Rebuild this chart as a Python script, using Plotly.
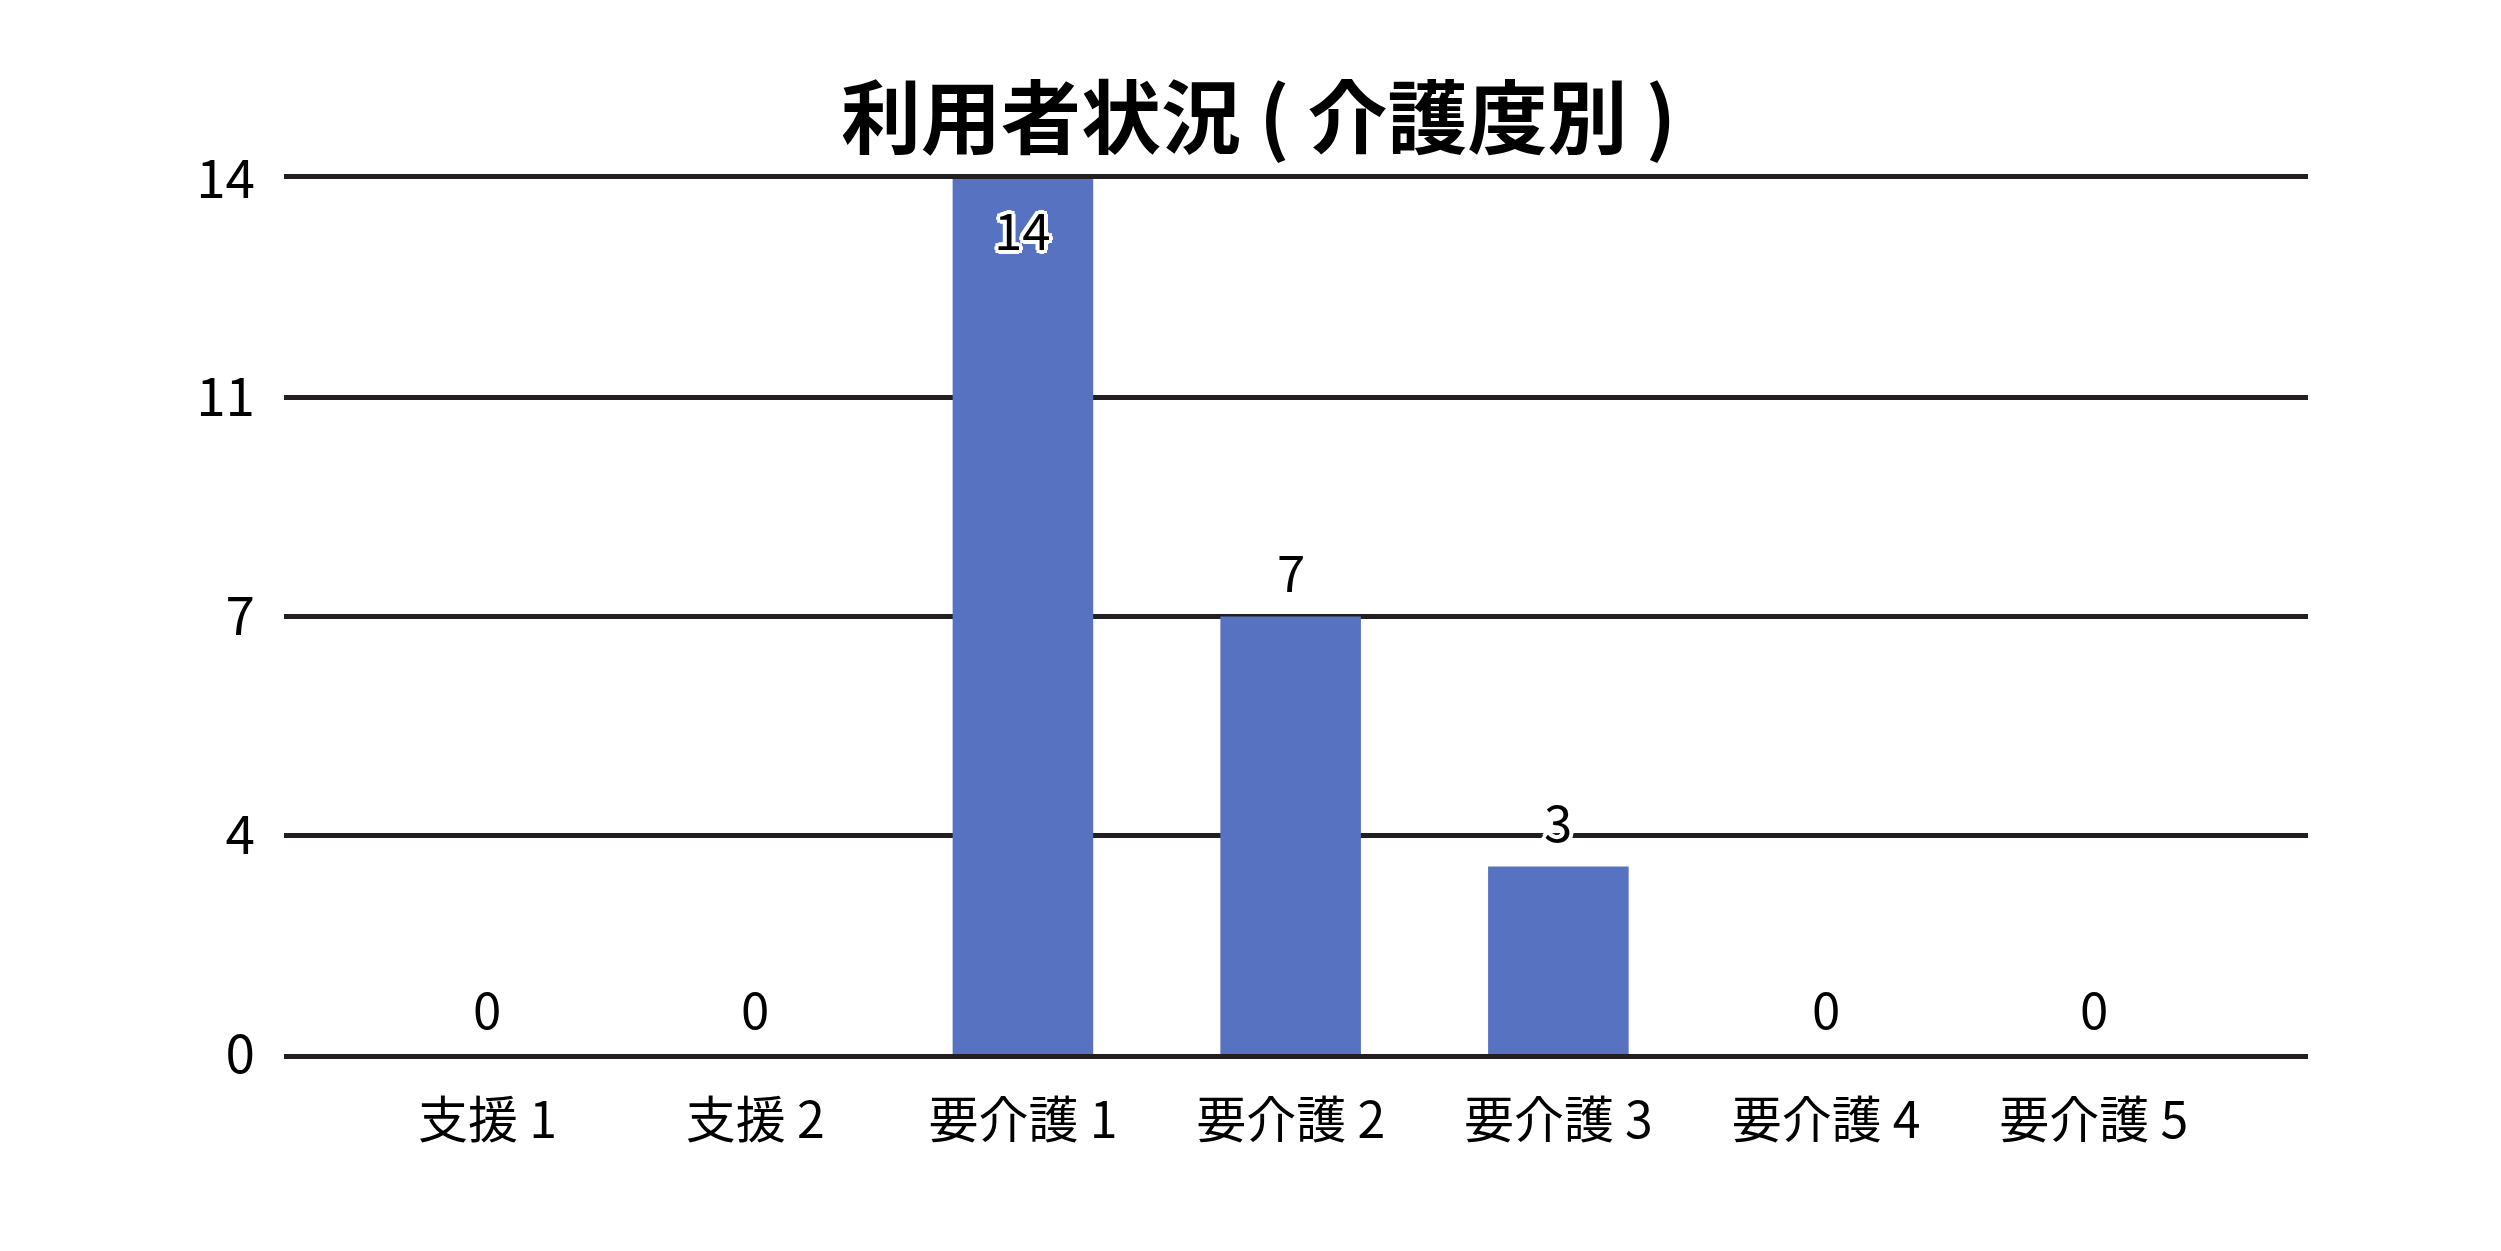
import plotly.graph_objects as go

categories = ["支援 1", "支援 2", "要介護 1", "要介護 2", "要介護 3", "要介護 4", "要介護 5"]
counts = [0, 0, 14, 7, 3, 0, 0]
label_inside = [False, False, True, False, False, False, False]
y_tick_values = [0, 3.5, 7, 10.5, 14]
y_tick_labels = ["0", "4", "7", "11", "14"]
title_text = "利用者状況 ( 介護度別 )"

FONT = "Noto Sans CJK JP"
PAGE_OFFSET = 8  # default body margin of the html page
halo = ("white 4px 0px 0px, white -4px 0px 0px, white 0px 4px 0px, white 0px -4px 0px, "
        "white 3px 3px 0px, white -3px -3px 0px, white 3px -3px 0px, white -3px 3px 0px")

fig = go.Figure(
    go.Bar(
        x=categories,
        y=counts,
        width=0.525,
        marker=dict(color="#5672C0", line=dict(width=0)),
        hoverinfo="x+y",
    )
)

for cat, val, inside in zip(categories, counts, label_inside):
    fig.add_annotation(
        x=cat,
        y=val,
        xref="x",
        yref="y",
        text=str(val),
        showarrow=False,
        xanchor="center",
        yanchor="middle",
        yshift=-49 if inside else 47,
        font=dict(family=FONT, size=51, color="black", shadow=halo),
    )

fig.update_layout(
    width=2501,
    height=1251,
    paper_bgcolor="white",
    plot_bgcolor="white",
    showlegend=False,
    margin=dict(l=284 - PAGE_OFFSET, r=193 + PAGE_OFFSET, t=179 - PAGE_OFFSET,
                b=197 + PAGE_OFFSET, pad=0),
    title=dict(
        text=title_text,
        x=0.5,
        xanchor="center",
        y=1 - (119 - PAGE_OFFSET) / 1251,
        yanchor="middle",
        font=dict(family=FONT, size=80, color="black", weight="bold"),
    ),
    font=dict(family=FONT, color="black"),
)

fig.update_xaxes(
    range=[-0.76, 6.8],
    showgrid=False,
    showline=True,
    mirror=True,
    linecolor="#231f20",
    linewidth=5,
    zeroline=False,
    ticks="",
    tickfont=dict(family=FONT, size=50, color="black"),
    ticklabelstandoff=19,
    automargin=False,
)

fig.update_yaxes(
    range=[0, 14],
    tickmode="array",
    tickvals=y_tick_values,
    ticktext=y_tick_labels,
    showgrid=True,
    gridcolor="#231f20",
    gridwidth=5,
    zeroline=False,
    showline=False,
    ticks="",
    tickfont=dict(family=FONT, size=53, color="black"),
    ticklabelstandoff=28,
    automargin=False,
)

fig.write_html("out.html")
